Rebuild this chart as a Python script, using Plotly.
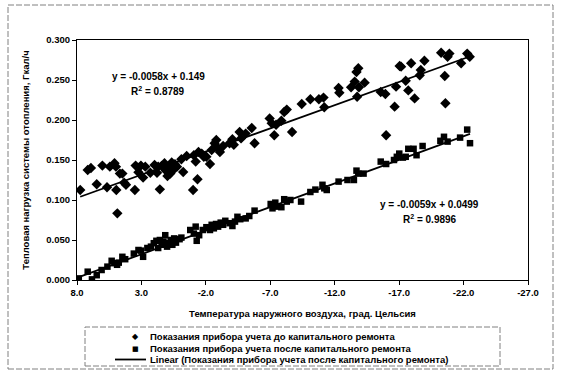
import numpy as np
import plotly.graph_objects as go

# ---------------- data ----------------
temp_before = [7.75, 7.17, 6.92, 6.47, 6.03, 5.67, 5.45, 5.09, 4.98, 4.95, 4.87, 4.67, 4.48, 4.34, 4.2,
               3.51, 3.45, 3.23, 3.04, 2.87, 2.7, 2.31, 1.98, 1.79, 1.7, 1.57, 1.43, 1.21, 1.1, 0.98,
               0.87, 0.76, 0.65, 0.54, 0.40, 0.24, -0.10, -0.24, -0.51, -1.01, -1.07, -1.21, -1.35, -1.43,
               -1.68, -1.84, -2.04, -2.32, -2.45, -2.68, -2.81, -2.95, -3.09, -3.34, -3.84, -4.06, -4.17,
               -4.62, -4.73, -5.09, -5.56, -5.78, -6.95, -7.11, -7.31, -7.45, -7.86, -8.08, -8.28, -8.69,
               -9.44, -10.11, -10.77, -11.13, -11.19, -12.3, -12.36, -13.27, -13.55, -13.69, -13.83, -13.74,
               -13.88, -14.32, -15.57, -15.93, -15.99, -16.65, -16.76, -17.04, -17.15, -17.51, -17.71,
               -17.93, -18.2, -18.6, -18.68, -18.96, -20.26, -20.54, -20.59, -20.76, -20.9, -21.81,
               -22.28, -22.48]
load_before = [0.1125, 0.1375, 0.140, 0.1196, 0.143, 0.116, 0.1417, 0.146, 0.1417, 0.1125, 0.0833, 0.133,
               0.133, 0.1217, 0.119, 0.1125, 0.143, 0.1346, 0.143, 0.128, 0.1417, 0.134, 0.1437, 0.134,
               0.1417, 0.1133, 0.1425, 0.146, 0.1367, 0.130, 0.1417, 0.133, 0.147, 0.1375, 0.1446, 0.1417,
               0.151, 0.135, 0.155, 0.1125, 0.156, 0.148, 0.126, 0.160, 0.158, 0.154, 0.154, 0.145, 0.1625,
               0.171, 0.175, 0.1646, 0.160, 0.1675, 0.171, 0.176, 0.169, 0.185, 0.177, 0.183, 0.190, 0.171,
               0.202, 0.196, 0.181, 0.194, 0.199, 0.210, 0.213, 0.185, 0.220, 0.226, 0.226, 0.228, 0.216,
               0.240, 0.234, 0.241, 0.248, 0.260, 0.2646, 0.229, 0.241, 0.2467, 0.235, 0.2325, 0.181,
               0.2167, 0.2417, 0.2675, 0.2667, 0.249, 0.237, 0.271, 0.227, 0.256, 0.2625, 0.274, 0.284,
               0.255, 0.221, 0.279, 0.283, 0.271, 0.283, 0.279]

temp_after = [7.86, 7.17, 6.84, 6.47, 6.09, 5.64, 5.31, 5.09, 4.89, 4.76, 4.48, 4.26, 3.59, 3.23, 3.04,
              2.87, 2.54, 2.26, 2.04, 1.84, 1.7, 1.57, 1.43, 1.29, 1.15, 1.01, 0.87, 0.73, 0.6, 0.46,
              0.32, 0.04, -0.1, -0.79, -1.07, -1.21, -1.29, -1.48, -1.76, -2.04, -2.32, -2.45, -2.62,
              -2.79, -2.95, -3.15, -3.34, -3.51, -3.84, -4.06, -4.26, -4.45, -4.67, -5.09, -5.37, -5.78,
              -7.03, -7.17, -7.39, -7.59, -7.86, -8.08, -8.28, -8.56, -9.39, -10.11, -10.5, -11.05,
              -11.19, -11.38, -12.3, -12.99, -13.49, -13.69, -13.83, -14.24, -15.57, -15.99, -16.6,
              -16.82, -17.01, -17.29, -17.51, -17.71, -18.12, -18.35, -18.82, -20.2, -20.48, -20.76,
              -21.73, -22.28, -22.5]
load_after = [0.002, 0.0104, 0.0008, 0.006, 0.0125, 0.0167, 0.024, 0.021, 0.019, 0.0217, 0.029, 0.026,
              0.033, 0.0375, 0.0367, 0.029, 0.040, 0.0417, 0.046, 0.049, 0.040, 0.050, 0.044, 0.048,
              0.056, 0.0417, 0.046, 0.050, 0.044, 0.052, 0.0467, 0.051, 0.053, 0.0625, 0.058, 0.0667,
              0.049, 0.056, 0.0625, 0.066, 0.0625, 0.069, 0.0646, 0.070, 0.0667, 0.0717, 0.069, 0.074,
              0.071, 0.0675, 0.073, 0.079, 0.076, 0.077, 0.080, 0.0867, 0.095, 0.0896, 0.0967, 0.0917,
              0.091, 0.101, 0.098, 0.100, 0.098, 0.110, 0.113, 0.119, 0.1146, 0.1125, 0.123, 0.125,
              0.125, 0.1367, 0.133, 0.133, 0.148, 0.145, 0.150, 0.154, 0.158, 0.153, 0.154, 0.164,
              0.164, 0.156, 0.1675, 0.174, 0.179, 0.173, 0.178, 0.188, 0.171]

# trendline coefficients (slope, intercept) as printed on the chart
trend_before = [-0.0058, 0.149]
trend_after = [-0.0059, 0.0499]
r2_before = 0.8789
r2_after = 0.9896

x_ticks = [8.0, 3.0, -2.0, -7.0, -12.0, -17.0, -22.0, -27.0]
y_ticks = [0.000, 0.050, 0.100, 0.150, 0.200, 0.250, 0.300]

series_names = ["Показания прибора учета до капитального ремонта",
                "Показания прибора учета после капитального ремонта",
                "Linear (Показания прибора учета после капитального ремонта)"]
x_title = "Температура наружного воздуха, град. Цельсия"
y_title = "Тепловая нагрузка системы отопления, Гкал/ч"

# ---------------- figure ----------------
FONT = "Liberation Sans, Arial, sans-serif"
W, H = 563, 376
L, R, T, B = 77, 35, 40, 96
PW, PH = W - L - R, H - T - B


def px2paper(px, py):
    return (px - L) / PW, (H - B - py) / PH


fig = go.Figure()


def trend_xy(xs, coef):
    xr = np.array([max(xs), min(xs)])
    return xr, coef[0] * xr + coef[1]


xb, yb = trend_xy(temp_before, trend_before)
xa, ya = trend_xy(temp_after, trend_after)

fig.add_trace(go.Scatter(x=temp_before, y=load_before, mode="markers", name=series_names[0],
                         marker=dict(symbol="diamond", size=8, color="black"), showlegend=False))
fig.add_trace(go.Scatter(x=temp_after, y=load_after, mode="markers", name=series_names[1],
                         marker=dict(symbol="square", size=6.5, color="black"), showlegend=False))
fig.add_trace(go.Scatter(x=xb, y=yb, mode="lines", name="Linear (" + series_names[0] + ")",
                         line=dict(color="black", width=1.8), showlegend=False))
fig.add_trace(go.Scatter(x=xa, y=ya, mode="lines", name=series_names[2],
                         line=dict(color="black", width=1.8), showlegend=False))

fig.update_layout(
    width=W, height=H,
    margin=dict(l=L, r=R, t=T, b=B),
    paper_bgcolor="white", plot_bgcolor="white",
    font=dict(family=FONT, size=10, color="black", weight="bold"),
    showlegend=False,
)

fig.update_xaxes(
    range=[x_ticks[0], x_ticks[-1]], tickvals=x_ticks, ticktext=[f"{v:.1f}" for v in x_ticks],
    showline=True, linecolor="black", linewidth=1, mirror=True,
    ticks="outside", ticklen=4, tickcolor="black", showgrid=False, zeroline=False,
    tickfont=dict(size=9.5, family=FONT, weight="bold"),
    title=dict(text=x_title, font=dict(size=9.5, family=FONT, weight="bold"), standoff=12),
)
fig.update_yaxes(
    range=[y_ticks[0], y_ticks[-1]], tickvals=y_ticks, ticktext=[f"{v:.3f}" for v in y_ticks],
    showline=True, linecolor="black", linewidth=1, mirror=True,
    ticks="outside", ticklen=4, tickcolor="black", showgrid=False, zeroline=False,
    tickfont=dict(size=9.5, family=FONT, weight="bold"),
    title=dict(text=y_title, font=dict(size=9.5, family=FONT, weight="bold"), standoff=14),
)

# regression equations
eq_font = dict(size=10, family=FONT, weight="bold", color="black")
fig.add_annotation(x=1.71, y=0.2538, text=f"y = {trend_before[0]}x + {trend_before[1]}",
                   showarrow=False, font=eq_font)
fig.add_annotation(x=1.71, y=0.236, text=f"R<sup>2</sup> = {r2_before}", showarrow=False, font=eq_font)
fig.add_annotation(x=-19.39, y=0.0938, text=f"y = {trend_after[0]}x + {trend_after[1]}",
                   showarrow=False, font=eq_font)
fig.add_annotation(x=-19.39, y=0.0763, text=f"R<sup>2</sup> = {r2_after}", showarrow=False, font=eq_font)

# outer chart frame and legend box (dashed, as in the scan)
frame_line = dict(color="#808080", width=1, dash="6px,2px")
fx0, fy1 = px2paper(8, 5)
fx1, fy0 = px2paper(553, 369)
fig.add_shape(type="rect", xref="paper", yref="paper", x0=fx0, x1=fx1, y0=fy0, y1=fy1,
              line=frame_line, layer="below")
lx0, ly1 = px2paper(85, 327)
lx1, ly0 = px2paper(500, 366)
fig.add_shape(type="rect", xref="paper", yref="paper", x0=lx0, x1=lx1, y0=ly0, y1=ly1,
              line=frame_line)

# legend entries
leg_font = dict(size=9.5, family=FONT, weight="bold", color="black")
rows_py = [336.5, 348.5, 359.5]
glyphs = ["◆", "■"]
for i, name in enumerate(series_names):
    tx, ty = px2paper(148, rows_py[i])
    fig.add_annotation(xref="paper", yref="paper", x=tx, y=ty, text=name, showarrow=False,
                       xanchor="left", yanchor="middle", font=leg_font)
    if i < 2:
        gx, gy = px2paper(135, rows_py[i])
        fig.add_annotation(xref="paper", yref="paper", x=gx, y=gy, text=glyphs[i], showarrow=False,
                           xanchor="center", yanchor="middle",
                           font=dict(size=8 if i == 0 else 7, family="DejaVu Sans", color="black"))
    else:
        ax0, ay = px2paper(115, rows_py[i])
        ax1, _ = px2paper(146, rows_py[i])
        fig.add_shape(type="line", xref="paper", yref="paper", x0=ax0, x1=ax1, y0=ay, y1=ay,
                      line=dict(color="black", width=1.8))

fig.write_html("out.html", config={"displayModeBar": False},
               post_script="document.body.style.margin='0';")
